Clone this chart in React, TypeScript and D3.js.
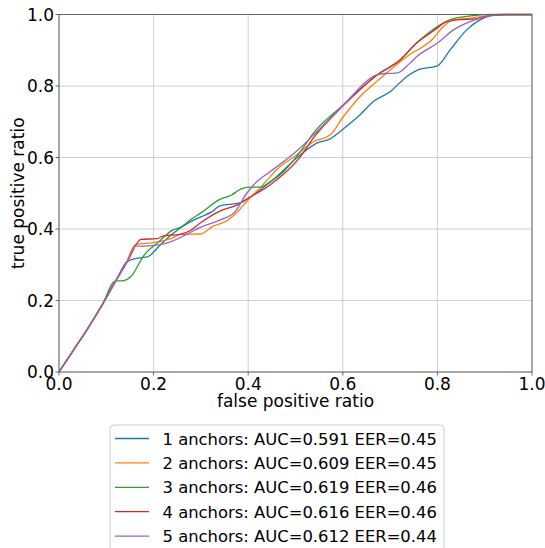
import React from "react";
import * as d3 from "d3";

const prefix: [number, number][] = [[0, 0], [0.03, 0.06], [0.06, 0.12], [0.09, 0.185], [0.12, 0.255]];

const series1: [number, number][] = [...prefix, [0.13, 0.28], [0.141, 0.305], [0.155, 0.315], [0.175, 0.32], [0.187, 0.322], [0.211, 0.351], [0.235, 0.381], [0.277, 0.42], [0.3, 0.434], [0.323, 0.448], [0.34, 0.465], [0.383, 0.473], [0.4, 0.486], [0.45, 0.535], [0.51, 0.607], [0.545, 0.64], [0.573, 0.652], [0.601, 0.68], [0.636, 0.719], [0.664, 0.756], [0.7, 0.784], [0.735, 0.826], [0.763, 0.847], [0.8, 0.856], [0.827, 0.901], [0.862, 0.957], [0.89, 0.985], [0.911, 0.996], [0.93, 1], [1, 1]];

const series2: [number, number][] = [...prefix, [0.14, 0.3], [0.162, 0.357], [0.2, 0.362], [0.242, 0.376], [0.256, 0.385], [0.298, 0.386], [0.326, 0.408], [0.355, 0.423], [0.376, 0.446], [0.4, 0.482], [0.425, 0.515], [0.467, 0.574], [0.502, 0.607], [0.538, 0.644], [0.573, 0.663], [0.601, 0.714], [0.636, 0.77], [0.679, 0.821], [0.7, 0.845], [0.735, 0.882], [0.791, 0.933], [0.812, 0.966], [0.834, 0.985], [0.87, 0.99], [0.91, 0.997], [0.95, 1], [1, 1]];

const series3: [number, number][] = [...prefix, [0.134, 0.255], [0.152, 0.267], [0.18, 0.327], [0.211, 0.364], [0.24, 0.397], [0.256, 0.404], [0.277, 0.425], [0.3, 0.445], [0.34, 0.483], [0.365, 0.495], [0.383, 0.511], [0.404, 0.517], [0.425, 0.517], [0.446, 0.532], [0.467, 0.551], [0.51, 0.616], [0.538, 0.668], [0.601, 0.747], [0.672, 0.831], [0.721, 0.873], [0.756, 0.92], [0.8, 0.966], [0.827, 0.986], [0.87, 0.996], [0.911, 1], [1, 1]];

const series4: [number, number][] = [...prefix, [0.145, 0.31], [0.173, 0.371], [0.207, 0.373], [0.221, 0.381], [0.256, 0.385], [0.277, 0.395], [0.3, 0.418], [0.34, 0.45], [0.376, 0.467], [0.4, 0.486], [0.446, 0.523], [0.51, 0.602], [0.538, 0.655], [0.601, 0.745], [0.672, 0.83], [0.721, 0.873], [0.756, 0.92], [0.8, 0.962], [0.812, 0.975], [0.841, 0.985], [0.883, 0.988], [0.911, 0.997], [0.95, 1], [1, 1]];

const series5: [number, number][] = [...prefix, [0.145, 0.31], [0.162, 0.352], [0.18, 0.352], [0.214, 0.356], [0.24, 0.366], [0.27, 0.385], [0.298, 0.404], [0.34, 0.425], [0.372, 0.448], [0.397, 0.5], [0.418, 0.532], [0.446, 0.56], [0.505, 0.621], [0.545, 0.672], [0.601, 0.747], [0.672, 0.831], [0.69, 0.835], [0.714, 0.836], [0.742, 0.864], [0.756, 0.882], [0.8, 0.92], [0.834, 0.957], [0.869, 0.98], [0.897, 0.992], [0.93, 1], [1, 1]];

const seriesData = [series1, series2, series3, series4, series5];
const seriesLabels = [
  "1 anchors: AUC=0.591 EER=0.45",
  "2 anchors: AUC=0.609 EER=0.45",
  "3 anchors: AUC=0.619 EER=0.46",
  "4 anchors: AUC=0.616 EER=0.46",
  "5 anchors: AUC=0.612 EER=0.44",
];
const colors = ["#1f77b4", "#ff7f0e", "#2ca02c", "#d62728", "#9467bd"];
const ticks = [0, 0.2, 0.4, 0.6, 0.8, 1.0];

const W = 545, H = 548;
const L = 59, R = 532, T = 14.5, B = 372;
const FONT = "DejaVu Sans, sans-serif";

export default function App() {
  const x = d3.scaleLinear().domain([0, 1]).range([L, R]);
  const y = d3.scaleLinear().domain([0, 1]).range([B, T]);
  const line = d3.line<[number, number]>().x(d => x(d[0])).y(d => y(d[1])).curve(d3.curveMonotoneX);
  const legX = 110, legY = 425, legW = 334, rowH = 24.4, row0 = 438.5;
  return (
    <svg width={W} height={H} style={{ position: "absolute", left: 0, top: 0, background: "#fff" }} fontFamily={FONT}>
      <rect x={0} y={0} width={W} height={H} fill="#fff" />
      {ticks.map(t => (
        <g key={"g" + t}>
          <line x1={x(t)} x2={x(t)} y1={T} y2={B} stroke="#b0b0b0" strokeOpacity={0.6} strokeWidth={1} />
          <line x1={L} x2={R} y1={y(t)} y2={y(t)} stroke="#b0b0b0" strokeOpacity={0.6} strokeWidth={1} />
        </g>
      ))}
      <g clipPath="url(#clip)">
        {seriesData.map((s, i) => (
          <path key={i} d={line(s) || ""} fill="none" stroke={colors[i]} strokeWidth={1.3} />
        ))}
      </g>
      <defs>
        <clipPath id="clip"><rect x={L} y={T - 1} width={R - L} height={B - T + 2} /></clipPath>
      </defs>
      <rect x={L} y={T} width={R - L} height={B - T} fill="none" stroke="#666" strokeWidth={1} />
      {ticks.map(t => (
        <g key={"t" + t}>
          <line x1={x(t)} x2={x(t)} y1={B} y2={B + 3.5} stroke="#666" />
          <line x1={L - 3.5} x2={L} y1={y(t)} y2={y(t)} stroke="#666" />
          <text x={x(t)} y={B + 17.5} textAnchor="middle" fontSize={17} fill="#000">{t.toFixed(1)}</text>
          <text x={L - 5} y={y(t) + 6} textAnchor="end" fontSize={17} fill="#000">{t.toFixed(1)}</text>
        </g>
      ))}
      <text x={(L + R) / 2} y={407} textAnchor="middle" fontSize={17} fill="#000">false positive ratio</text>
      <text transform={`translate(24,${(T + B) / 2}) rotate(-90)`} textAnchor="middle" fontSize={17} fill="#000">true positive ratio</text>
      <rect x={legX} y={legY} width={legW} height={140} rx={4} fill="#fff" fillOpacity={0.8} stroke="#ccc" strokeWidth={1} />
      {seriesLabels.map((lab, i) => (
        <g key={"l" + i}>
          <line x1={115} x2={149} y1={row0 + i * rowH} y2={row0 + i * rowH} stroke={colors[i]} strokeWidth={1.3} />
          <text x={162.5} y={row0 + i * rowH + 6} fontSize={16.4} fill="#000">{lab}</text>
        </g>
      ))}
    </svg>
  );
}
